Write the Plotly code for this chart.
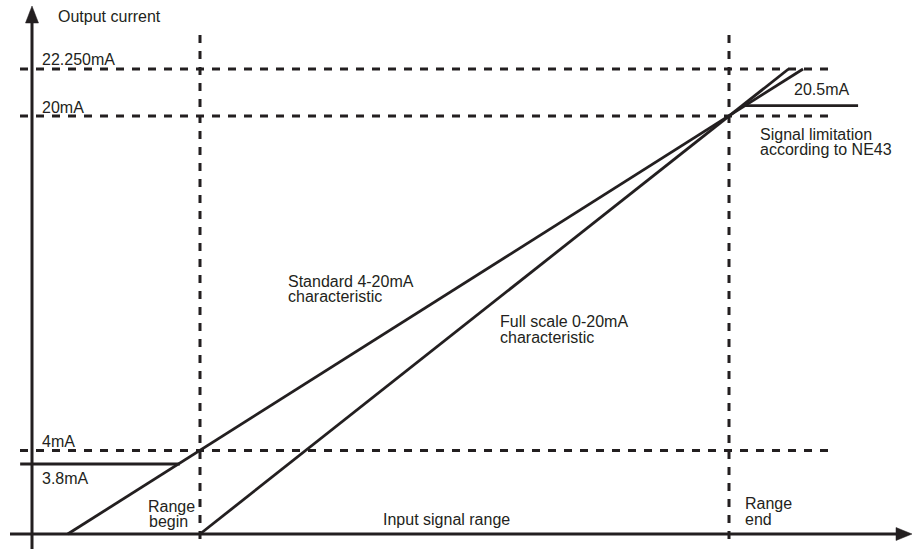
import plotly.graph_objects as go

# Input signal in % of range (0 = range begin, 100 = range end), output in mA.
# The drawing is a schematic, so the 3.8mA floor sits a bit lower than to scale.
level_labels = ["22.250mA", "20mA", "4mA"]
level_values = [22.25, 20.0, 4.0]
range_marks = [0.0, 100.0]

standard_x = [-25.0, 114.0]
standard_y = [0.0, 22.25]
fullscale_x = [0.0, 111.25]
fullscale_y = [0.0, 22.25]

low_limit_label = "3.8mA"
low_limit_x = [-34.0, -3.8]
low_limit_y = [3.35, 3.35]

high_limit_label = "20.5mA"
high_limit_x = [102.6, 124.4]
high_limit_y = [20.5, 20.5]

INK = "#231f20"
FONT = dict(family="Liberation Sans, Arial, sans-serif", size=16, color=INK)

# pixel <-> data helpers (0 % at px 200, 100 % at px 729; 0 mA at px 534, 20.9 px/mA)
def px_x(p):
    return (p - 200) / 5.29


def px_y(p):
    return (534 - p) / 20.9


fig = go.Figure()


def line(xs, ys, dash=None, width=3):
    fig.add_trace(go.Scatter(x=xs, y=ys, mode="lines", hoverinfo="skip",
                             line=dict(color=INK, width=width, dash=dash)))


# dashed reference levels
for v in level_values:
    line([px_x(20), px_x(828)], [v, v], dash="8px,8px")
for m in range_marks:
    line([m, m], [px_y(35), px_y(542)], dash="8px,8px")

# characteristics
line(standard_x, standard_y, width=2.8)
line(fullscale_x, fullscale_y, width=2.8)
line(low_limit_x, low_limit_y, width=2.8)
line(high_limit_x, high_limit_y, width=2.8)

# axes with arrow heads
ax_x = px_x(32)
line([ax_x, ax_x], [px_y(549), px_y(22)], width=3)
line([px_x(10), px_x(898)], [0, 0], width=3)
fig.add_trace(go.Scatter(
    x=[ax_x - 6.5 / 5.29, ax_x, ax_x + 6.5 / 5.29, ax_x - 6.5 / 5.29],
    y=[px_y(23), px_y(6), px_y(23), px_y(23)],
    mode="lines", fill="toself", fillcolor=INK, line=dict(color=INK, width=0.5), hoverinfo="skip"))
fig.add_trace(go.Scatter(
    x=[px_x(896), px_x(912), px_x(896), px_x(896)],
    y=[px_y(527.5), 0, px_y(540.5), px_y(527.5)],
    mode="lines", fill="toself", fillcolor=INK, line=dict(color=INK, width=0.5), hoverinfo="skip"))


def label(text, left_px, mid_px):
    fig.add_annotation(x=px_x(left_px), y=px_y(mid_px), text=text, showarrow=False,
                       xanchor="left", yanchor="middle", font=FONT)


label("Output current", 56, 16)
for t, v in zip(level_labels, level_values):
    label(t, 40, 534 - v * 20.9 - 9)
label(low_limit_label, 40, 478)
label("Range", 146, 506)
label("begin", 147, 521)
label("Range", 743, 503)
label("end", 743, 519)
label("Input signal range", 381, 519)
label("Standard 4-20mA", 286, 281)
label("characteristic", 286, 296)
label("Full scale 0-20mA", 498, 321)
label("characteristic", 498, 337)
label(high_limit_label, 792, 89)
label("Signal limitation", 758, 134)
label("according to NE43", 758, 149)

fig.update_layout(
    width=912, height=549,
    margin=dict(l=0, r=0, t=0, b=0),
    paper_bgcolor="white", plot_bgcolor="white",
    showlegend=False,
    xaxis=dict(visible=False, range=[px_x(0), px_x(912)], fixedrange=True),
    yaxis=dict(visible=False, range=[px_y(549), px_y(0)], fixedrange=True),
)

fig.write_html("out.html", config={"displayModeBar": False},
               post_script="document.body.style.margin='0';")
